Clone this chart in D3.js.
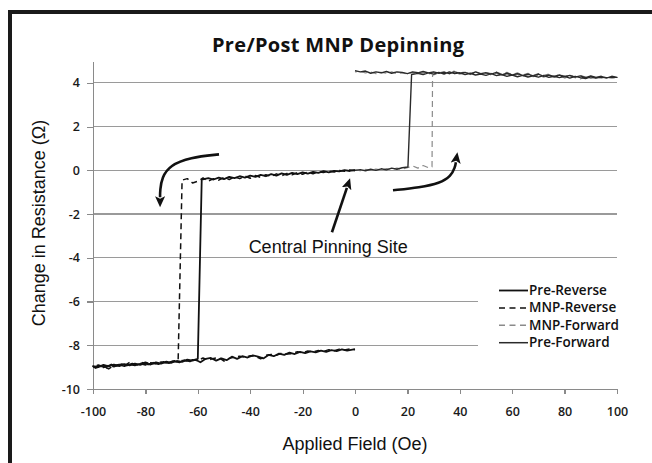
<!DOCTYPE html>
<html lang="en">
<head>
    <meta charset="UTF-8">
    <title>Pre/Post MNP Depinning</title>
    <style>
        html, body { margin: 0; background: #fff; overflow: hidden; }
        svg { display: block; }
        .grid line { stroke: #9a9a9a; stroke-width: 1.2px; shape-rendering: crispEdges; }
        .axis path, .axis line { fill: none; stroke: #8a8a8a; stroke-width: 1.2px; shape-rendering: crispEdges; }
        .axis text { font-family: "Open Sans", sans-serif; font-size: 12.5px; font-weight: 600; fill: #1a1a1a; }
        .series { fill: none; stroke-linejoin: round; }
    </style>
    <script src="https://d3js.org/d3.v7.min.js"></script>
</head>
<body>
<svg width="652" height="463"></svg>
<script>
// Field (Oe), change in resistance (Ohm) pairs
const preReverse = [
    [0,0.02],[-2,-0.03],[-4,0.01],[-6,-0.05],[-8,-0.02],[-10,-0.09],[-12,-0.04],[-14,-0.12],[-16,-0.07],[-18,-0.15],
    [-20,-0.09],[-22,-0.17],[-24,-0.12],[-26,-0.21],[-28,-0.14],[-30,-0.24],[-32,-0.17],[-34,-0.27],[-36,-0.21],[-38,-0.3],
    [-40,-0.24],[-42,-0.33],[-44,-0.27],[-46,-0.36],[-48,-0.3],[-50,-0.4],[-52,-0.33],[-54,-0.42],[-56,-0.36],[-58.5,-0.42],
    [-60,-8.62],
    [-62,-8.7],[-64,-8.66],[-66,-8.76],[-68,-8.72],[-70,-8.8],[-72,-8.75],[-74,-8.84],[-76,-8.78],[-78,-8.88],[-80,-8.82],
    [-82,-8.9],[-84,-8.84],[-86,-8.92],[-88,-8.86],[-90,-8.95],[-92,-8.88],[-94,-8.97],[-96,-8.9],[-98,-9.0],[-100,-8.96],
    [-99,-9.04],[-97,-8.95],[-95,-9.0],[-93,-8.88],[-91,-8.94],[-89,-8.86],[-87,-8.92],[-85,-8.84],[-83,-8.9],[-81,-8.8],
    [-79,-8.88],[-77,-8.8],[-75,-8.86],[-73,-8.76],[-71,-8.82],[-69,-8.72],[-67,-8.78],[-65,-8.68],[-63,-8.74],[-61,-8.65],
    [-59,-8.78],[-57,-8.62],[-55,-8.58],[-53,-8.7],[-51,-8.6],[-49,-8.68],[-47,-8.52],[-45,-8.62],[-43,-8.5],[-41,-8.56],
    [-39,-8.46],[-37,-8.52],[-35,-8.6],[-33,-8.44],[-31,-8.5],[-29,-8.38],[-27,-8.44],[-25,-8.34],[-23,-8.4],[-21,-8.3],
    [-19,-8.36],[-17,-8.28],[-15,-8.32],[-13,-8.25],[-11,-8.3],[-9,-8.22],[-7,-8.27],[-5,-8.19],[-3,-8.24],[-1,-8.2],[0,-8.18]
];
const mnpReverse = [
    [0,-0.02],[-2,0.02],[-4,-0.04],[-6,-0.01],[-8,-0.08],[-10,-0.03],[-12,-0.1],[-14,-0.06],[-16,-0.16],[-18,-0.08],
    [-20,-0.18],[-22,-0.11],[-24,-0.2],[-26,-0.14],[-28,-0.25],[-30,-0.16],[-32,-0.28],[-34,-0.2],[-36,-0.32],[-38,-0.24],
    [-40,-0.36],[-42,-0.26],[-44,-0.38],[-46,-0.3],[-48,-0.42],[-50,-0.32],[-52,-0.45],[-54,-0.38],[-56,-0.5],[-58,-0.35],
    [-60,-0.5],[-62,-0.58],[-64,-0.38],[-66,-0.45],
    [-67.5,-8.68],
    [-70,-8.74],[-72,-8.82],[-74,-8.76],[-76,-8.85],[-78,-8.8],[-80,-8.9],[-82,-8.84],[-84,-8.93],[-86,-8.87],[-88,-8.96],
    [-90,-8.9],[-92,-8.98],[-94,-8.92],[-96,-9.02],[-98,-8.95],[-100,-9.0],
    [-98,-8.9],[-96,-8.98],[-94,-9.08],[-92,-8.92],[-90,-8.88],[-88,-8.94],[-86,-8.78],[-84,-8.9],[-82,-8.86],[-80,-8.78],
    [-78,-8.86],[-76,-8.82],[-74,-8.78],[-72,-8.8],[-70,-8.72],[-68,-8.76],[-66,-8.7],[-64,-8.72],[-62,-8.66],[-60,-8.7],
    [-58,-8.58],[-56,-8.68],[-54,-8.6],[-52,-8.56],[-50,-8.72],[-48,-8.6],[-46,-8.55],[-44,-8.5],[-42,-8.54],[-40,-8.48],
    [-38,-8.5],[-36,-8.62],[-34,-8.46],[-32,-8.42],[-30,-8.46],[-28,-8.36],[-26,-8.4],[-24,-8.38],[-22,-8.3],[-20,-8.34],
    [-18,-8.26],[-16,-8.3],[-14,-8.24],[-12,-8.28],[-10,-8.2],[-8,-8.25],[-6,-8.18],[-4,-8.22],[-2,-8.17],[0,-8.2]
];
const mnpForward = [
    [0,0.02],[2,-0.02],[4,0.04],[6,0.0],[8,0.06],[10,0.02],[12,0.08],[14,0.04],[16,0.1],[18,0.05],
    [20,0.12],[22,0.2],[24,0.1],[26,0.22],[28,0.12],[29.4,0.16],
    [29.6,4.35],
    [32,4.45],[34,4.52],[36,4.4],[38,4.56],[40,4.44],[42,4.52],[44,4.38],[46,4.5],[48,4.4],[50,4.46],
    [52,4.36],[54,4.44],[56,4.34],[58,4.42],[60,4.32],[62,4.4],[64,4.3],[66,4.36],[68,4.28],[70,4.36],
    [72,4.26],[74,4.34],[76,4.26],[78,4.32],[80,4.22],[82,4.3],[84,4.24],[86,4.18],[88,4.28],[90,4.2],
    [92,4.26],[94,4.22],[96,4.28],[98,4.22],[100,4.24],
    [98,4.28],[96,4.2],[94,4.28],[92,4.22],[90,4.3],[88,4.26],[86,4.34],[84,4.26],[82,4.36],[80,4.3],
    [78,4.38],[76,4.3],[74,4.4],[72,4.34],[70,4.42],[68,4.34],[66,4.44],[64,4.36],[62,4.46],[60,4.38],
    [58,4.48],[56,4.4],[54,4.5],[52,4.42],[50,4.48],[48,4.4],[46,4.5],[44,4.42],[42,4.46],[40,4.4],
    [38,4.48],[36,4.42],[34,4.5],[32,4.44],[30,4.48],[28,4.4],[26,4.46],[24,4.42],[22,4.48],[20,4.4],
    [18,4.46],[16,4.42],[14,4.5],[12,4.44],[10,4.48],[8,4.42],[6,4.5],[4,4.46],[2,4.52],[0,4.5]
];
const preForward = [
    [0,0.0],[2,0.03],[4,-0.02],[6,0.05],[8,0.0],[10,0.07],[12,0.02],[14,0.1],[16,0.05],[18,0.12],[20.2,0.15],
    [21.6,4.38],
    [24,4.44],[26,4.38],[28,4.46],[30,4.4],[32,4.48],[34,4.4],[36,4.5],[38,4.42],[40,4.46],[42,4.38],
    [44,4.44],[46,4.36],[48,4.4],[50,4.34],[52,4.42],[54,4.33],[56,4.38],[58,4.3],[60,4.36],[62,4.28],
    [64,4.34],[66,4.27],[68,4.32],[70,4.26],[72,4.33],[74,4.25],[76,4.3],[78,4.24],[80,4.3],[82,4.22],
    [84,4.3],[86,4.24],[88,4.2],[90,4.28],[92,4.22],[94,4.27],[96,4.24],[98,4.26],[100,4.25],
    [98,4.3],[96,4.22],[94,4.3],[92,4.25],[90,4.32],[88,4.24],[86,4.32],[84,4.26],[82,4.34],[80,4.28],
    [78,4.36],[76,4.28],[74,4.36],[72,4.3],[70,4.4],[68,4.32],[66,4.4],[64,4.34],[62,4.42],[60,4.36],
    [58,4.44],[56,4.36],[54,4.48],[52,4.4],[50,4.46],[48,4.42],[46,4.5],[44,4.4],[42,4.48],[40,4.44],
    [38,4.5],[36,4.42],[34,4.48],[32,4.44],[30,4.5],[28,4.45],[26,4.52],[24,4.46],[22,4.5],[20,4.42],
    [18,4.48],[16,4.5],[14,4.44],[12,4.52],[10,4.46],[8,4.5],[6,4.44],[4,4.54],[2,4.5],[0,4.56]
];

const xTicks = [-100, -80, -60, -40, -20, 0, 20, 40, 60, 80, 100];
const yTicks = [-10, -8, -6, -4, -2, 0, 2, 4];
const legendNames = ["Pre-Reverse", "MNP-Reverse", "MNP-Forward", "Pre-Forward"];

// annotation arrows, in data units (field, resistance)
const arrowLeft = [[-51.9, 0.73], [-63.0, 0.59], [-70.6, 0.23], [-73.7, -0.32], [-74.4, -0.91], [-74.4, -1.23]];
const arrowCenter = [[-8.8, -2.83], [-3.1, -0.80]];
const arrowRight = [[14.5, -0.91], [24.8, -0.78], [32.4, -0.59], [36.6, -0.27], [38.2, 0.14], [38.5, 0.37]];

const svg = d3.select("svg");

// frame around the figure: only the top and left edges are in view
svg.append("line")
    .attr("x1", 10).attr("x2", 10).attr("y1", 10).attr("y2", 463)
    .attr("stroke", "#1a1a1a").attr("stroke-width", 4);
svg.append("line")
    .attr("x1", 8).attr("x2", 652).attr("y1", 12).attr("y2", 12)
    .attr("stroke", "#1a1a1a").attr("stroke-width", 4);

const margin = {top: 61, right: 35, bottom: 74, left: 93},
    width = 652 - margin.left - margin.right,
    height = 463 - margin.top - margin.bottom;

const x = d3.scaleLinear().domain([-100, 100]).range([0, width]);
const y = d3.scaleLinear().domain([-10, 5]).range([height, 0]);

const g = svg.append("g")
    .attr("transform", "translate(" + margin.left + "," + margin.top + ")");

// gridlines
g.append("g").attr("class", "grid")
    .selectAll("line")
    .data(yTicks.filter(d => d > -10))
    .join("line")
    .attr("x1", 0).attr("x2", width)
    .attr("y1", d => y(d)).attr("y2", d => y(d));

// axes (plain hyphen for negatives, like the original)
g.append("g").attr("class", "axis")
    .call(d3.axisLeft(y).tickValues(yTicks).tickFormat(d => String(d))
        .tickSize(6).tickSizeOuter(0).tickPadding(7));

g.append("g").attr("class", "axis")
    .attr("transform", "translate(0," + height + ")")
    .call(d3.axisBottom(x).tickValues(xTicks).tickFormat(d => String(d))
        .tickSize(5).tickSizeOuter(0).tickPadding(13));

// series
const line = d3.line().x(d => x(d[0])).y(d => y(d[1]));
const seriesStyle = [
    {data: preReverse, color: "#111", width: 1.8, dash: null},
    {data: mnpReverse, color: "#111", width: 1.5, dash: "6,4"},
    {data: mnpForward, color: "#8a8a8a", width: 1.2, dash: "6,4"},
    {data: preForward, color: "#2a2a2a", width: 1.4, dash: null}
];
// draw light ones first so black lines sit on top
[2, 3, 1, 0].forEach(i => {
    const s = seriesStyle[i];
    g.append("path")
        .datum(s.data)
        .attr("class", "series")
        .attr("stroke", s.color)
        .attr("stroke-width", s.width)
        .attr("stroke-dasharray", s.dash)
        .attr("d", line);
});

// arrows
svg.append("defs").append("marker")
    .attr("id", "head")
    .attr("markerUnits", "userSpaceOnUse")
    .attr("markerWidth", 13).attr("markerHeight", 12)
    .attr("refX", 1).attr("refY", 5)
    .attr("orient", "auto")
  .append("path")
    .attr("d", "M0,0 L11,5 L0,10 L2.5,5 Z")
    .attr("fill", "#111");

const curve = d3.line().x(d => x(d[0])).y(d => y(d[1])).curve(d3.curveBasis);
[arrowLeft, arrowCenter, arrowRight].forEach(pts => {
    g.append("path")
        .datum(pts)
        .attr("fill", "none")
        .attr("stroke", "#111")
        .attr("stroke-width", 2.6)
        .attr("marker-end", "url(#head)")
        .attr("d", curve);
});

g.append("text")
    .attr("x", x(-40.6)).attr("y", y(-3.77))
    .attr("font-family", "Liberation Sans, Arial, sans-serif")
    .attr("font-size", 18)
    .attr("fill", "#111")
    .text("Central Pinning Site");

// legend, on a white box that hides the gridlines behind it
svg.append("rect")
    .attr("x", 478).attr("y", 276)
    .attr("width", 142).attr("height", 76)
    .attr("fill", "#fff");

const legend = svg.append("g").attr("transform", "translate(499,295)");
legendNames.forEach((name, i) => {
    const s = seriesStyle[i];
    const row = legend.append("g").attr("transform", "translate(0," + (i * 17.4) + ")");
    row.append("line")
        .attr("x1", 0).attr("x2", 29)
        .attr("y1", -4.5).attr("y2", -4.5)
        .attr("stroke", s.color)
        .attr("stroke-width", i === 0 ? 1.8 : 1.5)
        .attr("stroke-dasharray", s.dash ? "6,4.5" : null);
    row.append("text")
        .attr("x", 30)
        .attr("font-family", "Open Sans, sans-serif")
        .attr("font-size", 13.5)
        .attr("font-weight", 600)
        .attr("fill", "#111")
        .text(name);
});

// titles
svg.append("text")
    .attr("x", 338).attr("y", 52)
    .attr("text-anchor", "middle")
    .attr("font-family", "Open Sans, sans-serif")
    .attr("font-weight", "bold")
    .attr("font-size", 20)
    .attr("textLength", 252)
    .attr("fill", "#111")
    .text("Pre/Post MNP Depinning");

svg.append("text")
    .attr("x", 355).attr("y", 450)
    .attr("text-anchor", "middle")
    .attr("font-family", "Liberation Sans, Arial, sans-serif")
    .attr("font-size", 18)
    .attr("fill", "#111")
    .text("Applied Field (Oe)");

svg.append("text")
    .attr("transform", "translate(45,223) rotate(-90)")
    .attr("text-anchor", "middle")
    .attr("font-family", "Liberation Sans, Arial, sans-serif")
    .attr("font-size", 18)
    .attr("fill", "#111")
    .text("Change in Resistance (\u03A9)");
</script>
</body>
</html>
